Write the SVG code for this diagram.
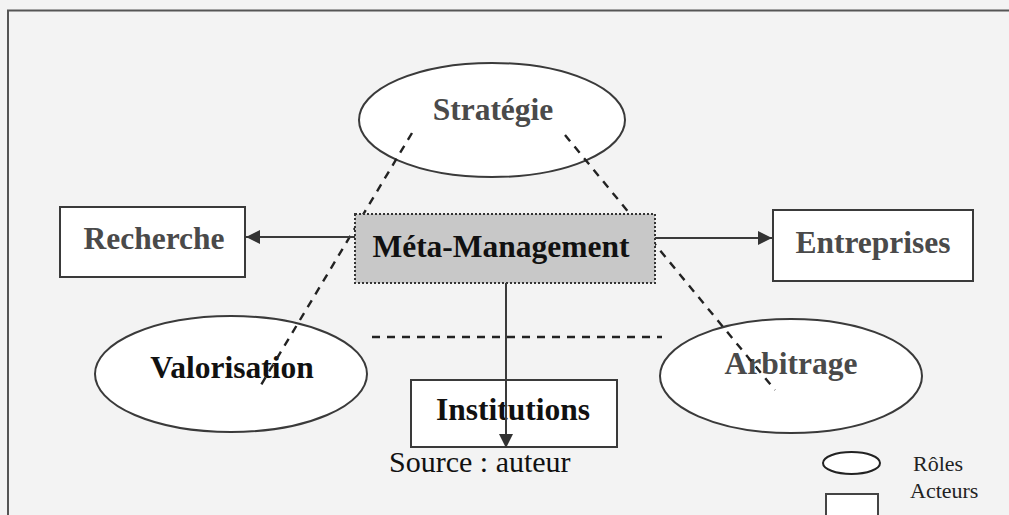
<svg xmlns="http://www.w3.org/2000/svg" width="1009" height="515" viewBox="0 0 1009 515">
<defs>
<style>
.lbl{font-family:"Liberation Serif","Times New Roman",serif;font-weight:bold;font-size:31.5px;text-anchor:middle}
.dk{fill:#111}
.gr{fill:#4a4a4a}
.reg{font-family:"Liberation Serif","Times New Roman",serif;font-size:30px;fill:#111}
.leg{font-family:"Liberation Serif","Times New Roman",serif;font-size:22px;fill:#222}
.shape{fill:#ffffff;stroke:#3a3a3a;stroke-width:2}
.dash{fill:none;stroke:#222;stroke-width:2.4;stroke-dasharray:8 7}
.arrow{fill:none;stroke:#3a3a3a;stroke-width:2}
</style>
<marker id="ah2" viewBox="0 0 10 10" refX="10" refY="5" markerWidth="16" markerHeight="14" markerUnits="userSpaceOnUse" orient="auto">
<path d="M0,0 L10,5 L0,10 z" fill="#333"/>
</marker>
</defs>
<rect x="0" y="0" width="1009" height="515" fill="#f3f3f3"/>
<path d="M8,515 L8,10.5 L1009,10.5" fill="none" stroke="#555" stroke-width="2"/>

<g id="strategie">
<ellipse class="shape" cx="492" cy="120" rx="133" ry="57"/>
<text class="lbl gr" x="493" y="120">Stratégie</text>
</g>
<g id="recherche">
<rect class="shape" x="60" y="207" width="185" height="70"/>
<text class="lbl gr" x="154" y="249">Recherche</text>
</g>
<g id="entreprises">
<rect class="shape" x="773" y="210" width="200" height="71"/>
<text class="lbl gr" x="873" y="253">Entreprises</text>
</g>
<g id="valorisation">
<ellipse class="shape" cx="231" cy="374" rx="136" ry="58"/>
<text class="lbl dk" x="232" y="378">Valorisation</text>
</g>
<g id="arbitrage">
<ellipse class="shape" cx="791" cy="376" rx="131" ry="57"/>
<text class="lbl gr" x="791" y="374">Arbitrage</text>
</g>
<g id="institutions">
<rect class="shape" x="411" y="380" width="206" height="67"/>
<text class="lbl dk" x="513" y="420">Institutions</text>
</g>

<g id="connectors-dashed">
<line class="dash" x1="412" y1="133" x2="258" y2="390"/>
<line class="dash" x1="565" y1="135" x2="775" y2="390"/>
<line class="dash" x1="372" y1="337" x2="662" y2="337"/>
</g>

<g id="meta-management">
<rect x="355" y="214" width="300" height="69" fill="#c8c8c8" stroke="#333" stroke-width="2" stroke-dasharray="2 2"/>
<text class="lbl dk" x="501" y="257">Méta-Management</text>
</g>

<g id="connectors">
<line class="arrow" x1="355" y1="237" x2="246" y2="237" marker-end="url(#ah2)"/>
<line class="arrow" x1="655" y1="238" x2="772" y2="238" marker-end="url(#ah2)"/>
<line class="arrow" x1="506" y1="283" x2="506" y2="448" marker-end="url(#ah2)"/>
</g>

<g id="source">
<text class="reg" x="389" y="472">Source : auteur</text>
</g>
<g id="legend">
<ellipse cx="851.5" cy="463" rx="28.5" ry="11" fill="#fff" stroke="#222" stroke-width="2"/>
<text class="leg" x="913" y="471">Rôles</text>
<rect x="826" y="494" width="52" height="30" fill="#fff" stroke="#444" stroke-width="2"/>
<text class="leg" x="910" y="498">Acteurs</text>
</g>
</svg>
